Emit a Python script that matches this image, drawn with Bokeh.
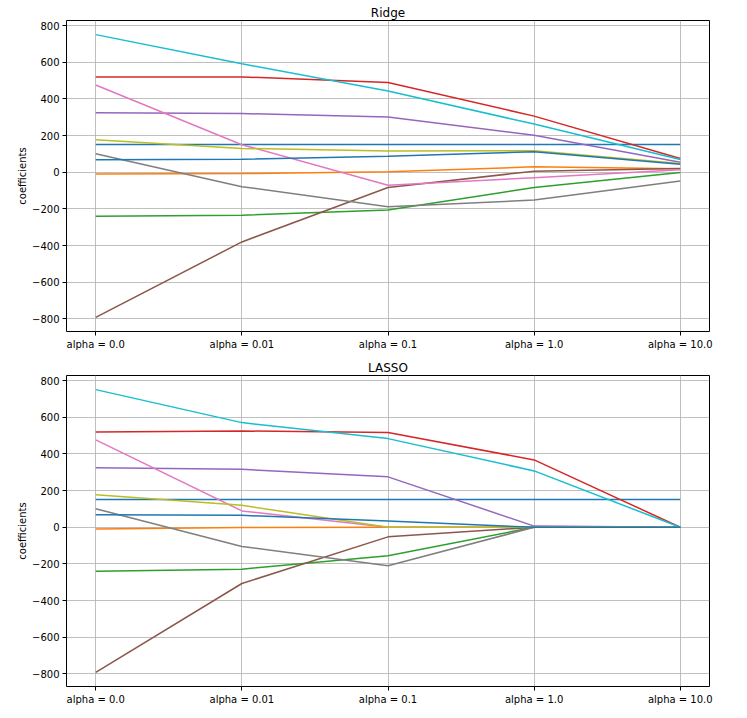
from bokeh.plotting import figure
from bokeh.layouts import column
from bokeh.models import Range1d, FixedTicker
from bokeh.embed import file_html
from bokeh.resources import INLINE

font = "DejaVu Sans"

# подписи по оси x
alpha_labels = ["alpha = 0.0", "alpha = 0.01", "alpha = 0.1", "alpha = 1.0", "alpha = 10.0"]
y_ticks = [-800, -600, -400, -200, 0, 200, 400, 600, 800]

# цвета (tab10), порядок как у линий
line_colors = ["#1f77b4", "#ff7f0e", "#2ca02c", "#d62728", "#9467bd", "#8c564b",
               "#e377c2", "#7f7f7f", "#bcbd22", "#17becf", "#1f77b4"]

# Ridge коэффициенты
ridge_intercept = [152.1, 152.1, 152.1, 152.1, 152.1]
ridge_age = [-10.0, -7.2, 2.4, 29.5, 19.8]
ridge_sex = [-239.8, -234.6, -206.0, -83.2, -0.9]
ridge_bmi = [519.8, 520.6, 489.7, 306.4, 75.4]
ridge_bp = [324.4, 320.5, 301.8, 201.6, 55.0]
ridge_s1 = [-792.2, -380.4, -83.5, 5.9, 19.9]
ridge_s2 = [476.7, 150.5, -70.8, -29.5, 13.9]
ridge_s3 = [101.0, -78.6, -188.7, -152.0, -47.6]
ridge_s4 = [177.1, 130.3, 115.7, 117.3, 48.3]
ridge_s5 = [751.3, 592.3, 443.8, 262.9, 70.1]
ridge_s6 = [67.6, 71.1, 86.7, 111.9, 44.2]

# LASSO коэффициенты
lasso_intercept = [152.1, 152.1, 152.1, 152.1, 152.1]
lasso_age = [-10.0, -1.3, 0.0, 0.0, 0.0]
lasso_sex = [-239.8, -228.8, -155.4, 0.0, 0.0]
lasso_bmi = [519.8, 525.6, 517.2, 367.7, 0.0]
lasso_bp = [324.4, 316.2, 275.1, 6.3, 0.0]
lasso_s1 = [-792.2, -307.0, -52.5, 0.0, 0.0]
lasso_s2 = [476.7, 89.3, 0.0, 0.0, 0.0]
lasso_s3 = [101.0, -105.1, -210.2, 0.0, 0.0]
lasso_s4 = [177.1, 119.6, 0.0, 0.0, 0.0]
lasso_s5 = [751.3, 571.3, 483.9, 307.6, 0.0]
lasso_s6 = [67.6, 65.0, 33.7, 0.0, 0.0]

ridge_series = [ridge_intercept, ridge_age, ridge_sex, ridge_bmi, ridge_bp, ridge_s1,
                ridge_s2, ridge_s3, ridge_s4, ridge_s5, ridge_s6]
lasso_series = [lasso_intercept, lasso_age, lasso_sex, lasso_bmi, lasso_bp, lasso_s1,
                lasso_s2, lasso_s3, lasso_s4, lasso_s5, lasso_s6]


def coef_plot(title, series):
    """Линии коэффициентов по значениям alpha"""
    xs = list(range(len(alpha_labels)))
    lo = min(min(s) for s in series)
    hi = max(max(s) for s in series)
    pad = (hi - lo) * 0.05
    xpad = (xs[-1] - xs[0]) * 0.05

    fig = figure(width=739, height=355, output_backend="svg", toolbar_location=None, tools="",
                 x_range=Range1d(xs[0] - xpad, xs[-1] + xpad), y_range=Range1d(lo - pad, hi + pad),
                 min_border_left=66, min_border_right=30, min_border_top=20, min_border_bottom=24)

    for s, c in zip(series, line_colors):
        fig.line(xs, s, line_color=c, line_width=1.5)

    # заголовок
    fig.title.text = title
    fig.title.align = "center"
    fig.title.text_font = font
    fig.title.text_font_size = "12px"
    fig.title.text_font_style = "normal"
    fig.title.text_color = "black"
    fig.title.standoff = 2
    fig.title.offset = 0

    # оси
    fig.xaxis.ticker = FixedTicker(ticks=xs)
    fig.xaxis.major_label_overrides = {i: lab for i, lab in enumerate(alpha_labels)}
    fig.yaxis.ticker = FixedTicker(ticks=y_ticks)
    fig.yaxis.major_label_overrides = {t: str(t).replace("-", "\u2212") for t in y_ticks}
    fig.yaxis.axis_label = "coefficients"
    fig.yaxis.axis_label_text_font = font
    fig.yaxis.axis_label_text_font_size = "10px"
    fig.yaxis.axis_label_text_font_style = "normal"
    fig.yaxis.axis_label_text_color = "black"
    fig.yaxis.axis_label_standoff = 1
    fig.axis.major_label_text_font = font
    fig.axis.major_label_text_font_size = "10px"
    fig.axis.major_label_text_color = "black"
    fig.axis.major_label_standoff = 3
    fig.axis.major_tick_out = 4
    fig.axis.major_tick_in = 0
    fig.axis.major_tick_line_color = "black"
    fig.axis.minor_tick_line_color = None
    fig.axis.axis_line_color = None

    # сетка и рамка
    fig.grid.grid_line_color = "#b0b0b0"
    fig.grid.grid_line_width = 0.8
    fig.outline_line_color = "black"
    fig.outline_line_width = 1
    fig.outline_line_alpha = 1
    return fig


p = column(coef_plot("Ridge", ridge_series), coef_plot("LASSO", lasso_series))

open("out.html", "w").write(file_html(p, INLINE))
